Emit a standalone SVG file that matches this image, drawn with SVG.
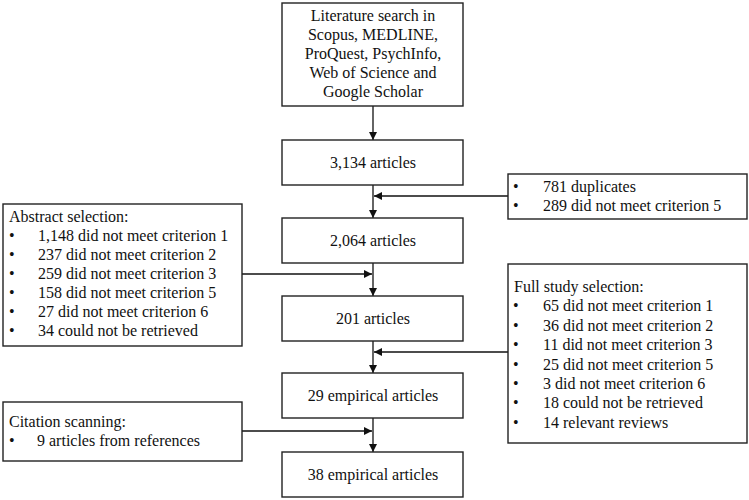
<svg xmlns="http://www.w3.org/2000/svg" width="749" height="500" viewBox="0 0 749 500">
<style>
.box{fill:#fff;stroke:#222;stroke-width:1.4}
.t{font-family:"Liberation Serif","Times New Roman",serif;font-size:16px;fill:#111}
.c{text-anchor:middle}
.ln{fill:none;stroke:#111;stroke-width:1.3}
</style>
<defs>
<marker id="ah" markerUnits="userSpaceOnUse" viewBox="0 0 10 10" refX="10" refY="5" markerWidth="8" markerHeight="9" orient="auto">
<path d="M0,0 L10,5 L0,10 z" fill="#111"/>
</marker>
</defs>
<rect width="749" height="500" fill="#fff"/>
<g id="connectors">
<line class="ln" x1="373" y1="106" x2="373" y2="140" marker-end="url(#ah)"/>
<line class="ln" x1="373" y1="185" x2="373" y2="218" marker-end="url(#ah)"/>
<line class="ln" x1="508" y1="196" x2="374" y2="196" marker-end="url(#ah)"/>
<line class="ln" x1="373" y1="263" x2="373" y2="296" marker-end="url(#ah)"/>
<line class="ln" x1="242" y1="274" x2="372" y2="274" marker-end="url(#ah)"/>
<line class="ln" x1="373" y1="341" x2="373" y2="373" marker-end="url(#ah)"/>
<line class="ln" x1="508" y1="352" x2="374" y2="352" marker-end="url(#ah)"/>
<line class="ln" x1="373" y1="418" x2="373" y2="452" marker-end="url(#ah)"/>
<line class="ln" x1="242" y1="431" x2="372" y2="431" marker-end="url(#ah)"/>
</g>
<g id="search">
<rect class="box" x="282" y="3" width="181" height="103"/>
<text class="t c" x="373" y="21">Literature search in</text>
<text class="t c" x="373" y="40">Scopus, MEDLINE,</text>
<text class="t c" x="373" y="59">ProQuest, PsychInfo,</text>
<text class="t c" x="373" y="78">Web of Science and</text>
<text class="t c" x="373" y="97">Google Scholar</text>
</g>
<g id="n3134">
<rect class="box" x="282" y="140" width="181" height="45"/>
<text class="t c" x="373" y="168">3,134 articles</text>
</g>
<g id="duplicates">
<rect class="box" x="508" y="174" width="239" height="45"/>
<text class="t" x="513" y="192">•</text><text class="t" x="543" y="192">781 duplicates</text>
<text class="t" x="513" y="211">•</text><text class="t" x="543" y="211">289 did not meet criterion 5</text>
</g>
<g id="n2064">
<rect class="box" x="282" y="218" width="181" height="45"/>
<text class="t c" x="373" y="246">2,064 articles</text>
</g>
<g id="abstract">
<rect class="box" x="3" y="204" width="239" height="142"/>
<text class="t" x="9" y="222">Abstract selection:</text>
<text class="t" x="9" y="241">•</text><text class="t" x="38" y="241">1,148 did not meet criterion 1</text>
<text class="t" x="9" y="260">•</text><text class="t" x="38" y="260">237 did not meet criterion 2</text>
<text class="t" x="9" y="279">•</text><text class="t" x="38" y="279">259 did not meet criterion 3</text>
<text class="t" x="9" y="298">•</text><text class="t" x="38" y="298">158 did not meet criterion 5</text>
<text class="t" x="9" y="317">•</text><text class="t" x="38" y="317">27 did not meet criterion 6</text>
<text class="t" x="9" y="336">•</text><text class="t" x="38" y="336">34 could not be retrieved</text>
</g>
<g id="n201">
<rect class="box" x="282" y="296" width="181" height="45"/>
<text class="t c" x="373" y="324">201 articles</text>
</g>
<g id="fullstudy">
<rect class="box" x="508" y="264" width="239" height="179"/>
<text class="t" x="514" y="292">Full study selection:</text>
<text class="t" x="513" y="311">•</text><text class="t" x="543" y="311">65 did not meet criterion 1</text>
<text class="t" x="513" y="331">•</text><text class="t" x="543" y="331">36 did not meet criterion 2</text>
<text class="t" x="513" y="350">•</text><text class="t" x="543" y="350">11 did not meet criterion 3</text>
<text class="t" x="513" y="370">•</text><text class="t" x="543" y="370">25 did not meet criterion 5</text>
<text class="t" x="513" y="389">•</text><text class="t" x="543" y="389">3 did not meet criterion 6</text>
<text class="t" x="513" y="408">•</text><text class="t" x="543" y="408">18 could not be retrieved</text>
<text class="t" x="513" y="428">•</text><text class="t" x="543" y="428">14 relevant reviews</text>
</g>
<g id="n29">
<rect class="box" x="282" y="373" width="181" height="45"/>
<text class="t c" x="373" y="401">29 empirical articles</text>
</g>
<g id="citation">
<rect class="box" x="3" y="402" width="239" height="59"/>
<text class="t" x="9" y="427">Citation scanning:</text>
<text class="t" x="9" y="446">•</text><text class="t" x="37" y="446">9 articles from references</text>
</g>
<g id="n38">
<rect class="box" x="282" y="452" width="181" height="45"/>
<text class="t c" x="373" y="480">38 empirical articles</text>
</g>
</svg>
